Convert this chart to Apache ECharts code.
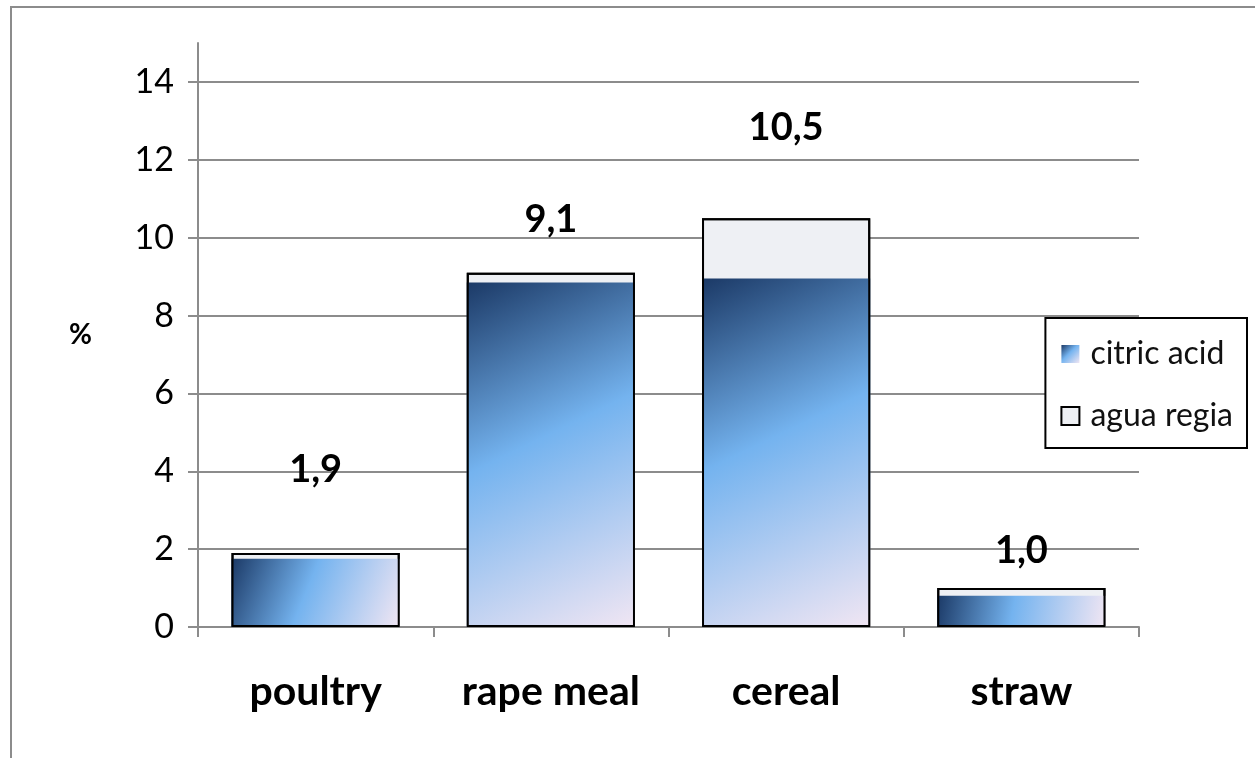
<!DOCTYPE html>
<html>
<head>
<meta charset="utf-8">
<script src="https://cdn.jsdelivr.net/npm/echarts@6/dist/echarts.min.js"></script>
<style>
  html, body { margin: 0; padding: 0; background: #fff; }
  #chart { width: 1255px; height: 758px; }
</style>
</head>
<body>
<div id="chart"></div>
<script>
const categories = ['poultry', 'rape meal', 'cereal', 'straw'];
const citricAcid = [1.75, 8.85, 8.95, 0.8];
const aguaRegia = [1.9, 9.1, 10.5, 1.0];
const yTicks = [0, 2, 4, 6, 8, 10, 12, 14];

// labels in the original were dragged by hand, so each sits at its own height
const labelLift = [64, 34, 71, 18];

const chart = echarts.init(document.getElementById('chart'));
const grey = '#8c8c8c';
const font = 'Lato, "Open Sans", sans-serif';

const citricFill = new echarts.graphic.LinearGradient(0, 0, 1, 1, [
    { offset: 0, color: '#1b3966' },
    { offset: 0.45, color: '#74b3ef' },
    { offset: 1, color: '#f1e6f3' }
]);

const option = {
    animation: false,
    textStyle: { fontFamily: font },
    graphic: [{
        type: 'rect',
        shape: { x: 11, y: 7, width: 1270, height: 780 },
        style: { fill: 'none', stroke: grey, lineWidth: 2 },
        z: -10
    }],
    grid: { left: 198, right: 116, top: 43, bottom: 131 },
    legend: {
        orient: 'vertical',
        right: 8,
        top: 318,
        data: [
            { name: 'citric acid', icon: 'rect' },
            { name: 'agua regia', icon: 'rect' }
        ],
        backgroundColor: '#fff',
        borderColor: '#000',
        borderWidth: 2,
        padding: [20, 14, 16, 15],
        itemWidth: 18,
        itemHeight: 18,
        itemGap: 30,
        textStyle: { fontSize: 32, color: '#111', fontFamily: font, padding: [0, 0, 0, 6] }
    },
    xAxis: {
        type: 'category',
        data: categories,
        axisLine: { lineStyle: { color: grey, width: 2 } },
        axisTick: { show: true, length: 10, lineStyle: { color: grey, width: 2 } },
        axisLabel: { margin: 44, fontSize: 41, fontWeight: 'bold', color: '#000', fontFamily: font }
    },
    yAxis: {
        type: 'value',
        min: 0,
        max: 15,
        interval: 2,
        name: '%',
        nameLocation: 'middle',
        nameRotate: 0,
        nameGap: 106,
        nameTextStyle: { fontSize: 28, fontWeight: 'bold', color: '#000', fontFamily: font },
        axisLine: { show: true, lineStyle: { color: grey, width: 2 } },
        axisTick: { show: true, length: 10, customValues: yTicks, lineStyle: { color: grey, width: 2 } },
        axisLabel: {
            margin: 24, fontSize: 34, color: '#000', fontFamily: font,
            customValues: yTicks
        },
        splitLine: {
            lineStyle: {
                color: [grey, grey, grey, grey, grey, grey, grey, grey, 'rgba(0,0,0,0)'],
                width: 2
            }
        }
    },
    series: [
        {
            name: 'agua regia',
            type: 'bar',
            data: aguaRegia,
            barWidth: '71.5%',
            barGap: '-100%',
            itemStyle: { color: '#eef0f4', borderColor: '#000', borderWidth: 2 },
            z: 2
        },
        {
            name: 'citric acid',
            type: 'bar',
            data: citricAcid,
            barWidth: '71.5%',
            barGap: '-100%',
            itemStyle: { color: citricFill },
            z: 3
        },
        {
            name: 'outline',
            type: 'bar',
            data: aguaRegia.map((v, i) => ({
                value: v,
                label: { distance: labelLift[i] }
            })),
            barWidth: '71.5%',
            barGap: '-100%',
            itemStyle: { color: 'rgba(0,0,0,0)', borderColor: '#000', borderWidth: 2 },
            label: {
                show: true,
                position: 'top',
                fontSize: 38,
                fontWeight: 'bold',
                color: '#000',
                fontFamily: font,
                formatter: p => p.value.toFixed(1).replace('.', ',')
            },
            silent: true,
            z: 4
        }
    ]
};

chart.setOption(option);
</script>
</body>
</html>
